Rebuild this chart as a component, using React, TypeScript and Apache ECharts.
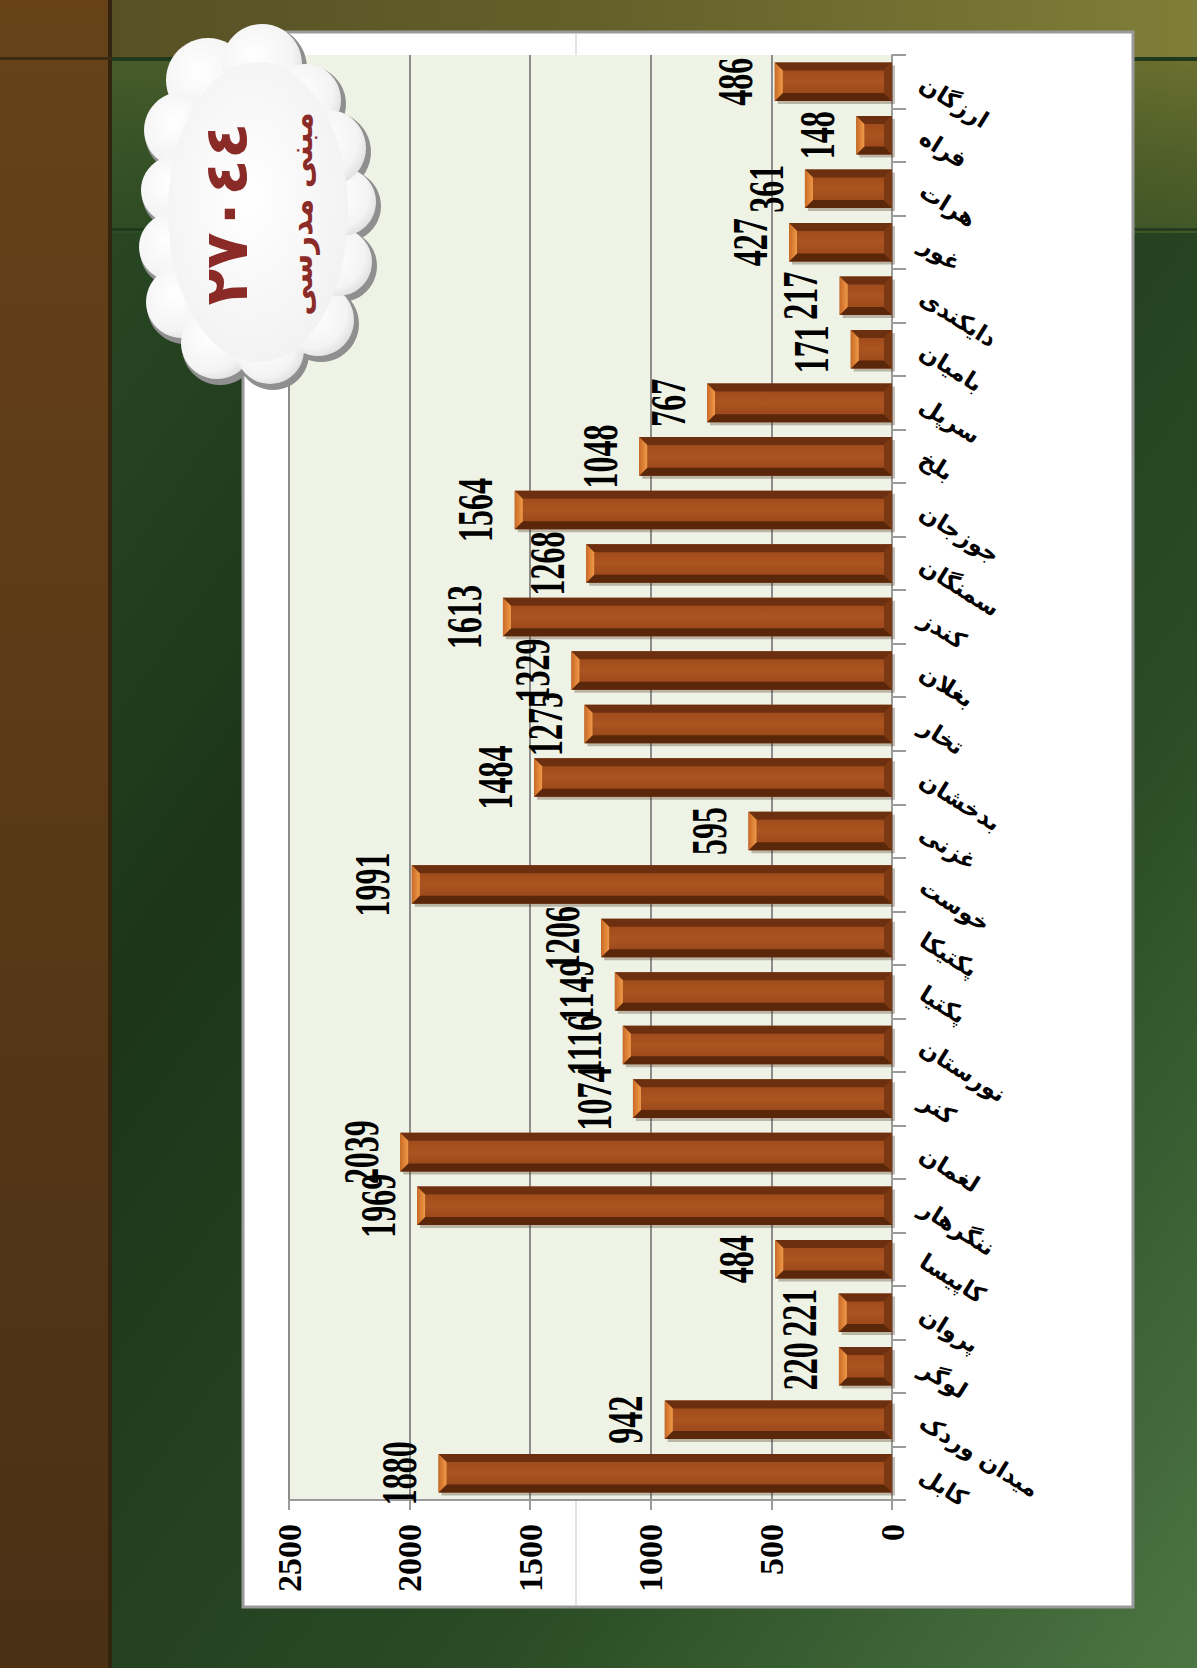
import React, { useEffect, useRef } from "react";
import * as echarts from "echarts";

const categories = [
  "کابل", "میدان وردک", "لوگر", "پروان", "کاپیسا", "ننگرهار", "لغمان", "کنر", "نورستان",
  "پکتیا", "پکتیکا", "خوست", "غزنی", "بدخشان", "تخار", "بغلان", "کندز", "سمنگان",
  "جوزجان", "بلخ", "سرپل", "بامیان", "دایکندی", "غور", "هرات", "فراه", "ارزگان",
];
const values = [
  1880, 942, 220, 221, 484, 1969, 2039, 1074, 1116, 1149, 1206, 1991, 595, 1484,
  1275, 1329, 1613, 1268, 1564, 1048, 767, 171, 217, 427, 361, 148, 486,
];
const valueMin = 0;
const valueMax = 2500;
const valueStep = 500;
const titleNumber = "٢٧٠٤٤";
const titleText = "مبنی مدرسی";

const cloudCircles: number[][] = [
  [208, 80, 42], [262, 64, 40], [305, 100, 36], [182, 130, 38], [175, 190, 34],
  [173, 247, 34], [182, 302, 36], [217, 343, 36], [270, 350, 34], [318, 320, 36],
  [338, 262, 34], [342, 202, 34], [328, 148, 38],
];

export default function App() {
  const ref = useRef<HTMLDivElement>(null);
  useEffect(() => {
    if (!ref.current) return;
    const chart = echarts.init(ref.current, null, { renderer: "svg" });

    const cloudShadow = cloudCircles.map((c) => ({
      type: "circle", z: 100,
      shape: { cx: c[0] + 3, cy: c[1] + 4, r: c[2] + 2 },
      style: { fill: "#8f8f8f" },
    }));
    const cloudWhite = cloudCircles.map((c) => ({
      type: "circle", z: 101,
      shape: { cx: c[0], cy: c[1], r: c[2] },
      style: {
        fill: new echarts.graphic.RadialGradient(0.4, 0.4, 0.7, [
          { offset: 0, color: "#ffffff" },
          { offset: 0.7, color: "#f4f4f4" },
          { offset: 1, color: "#d9d9d9" },
        ]),
      },
    }));

    chart.setOption({
      animation: false,
      graphic: [
        { type: "rect", z: -20, shape: { x: 0, y: 0, width: 1197, height: 1668 },
          style: { fill: new echarts.graphic.LinearGradient(0, 0, 1, 1, [
            { offset: 0, color: "#2f4f28" }, { offset: 0.35, color: "#1c3519" },
            { offset: 0.7, color: "#2a4b25" }, { offset: 1, color: "#4d7543" } ]) } },
        { type: "rect", z: -19, shape: { x: 0, y: 58, width: 1197, height: 175 },
          style: { fill: new echarts.graphic.LinearGradient(1, 0, 0, 1, [
            { offset: 0, color: "rgba(112,114,48,0.95)" }, { offset: 1, color: "rgba(60,90,40,0.2)" } ]) } },
        { type: "rect", z: -18, shape: { x: 0, y: 0, width: 1197, height: 58 },
          style: { fill: new echarts.graphic.LinearGradient(0, 0, 1, 0, [
            { offset: 0, color: "#544d24" }, { offset: 0.5, color: "#64602a" }, { offset: 1, color: "#7f7e38" } ]) } },
        { type: "rect", z: -17, shape: { x: 0, y: 57, width: 1197, height: 4 }, style: { fill: "#1f3a1c" } },
        { type: "rect", z: -17, shape: { x: 0, y: 228, width: 1197, height: 3 }, style: { fill: "rgba(25,50,25,0.7)" } },
        { type: "rect", z: -16, shape: { x: 0, y: 0, width: 110, height: 1668 },
          style: { fill: new echarts.graphic.LinearGradient(0, 0, 0, 1, [
            { offset: 0, color: "#674219" }, { offset: 1, color: "#4a3015" } ]) } },
        { type: "rect", z: -15, shape: { x: 108, y: 0, width: 4, height: 1668 }, style: { fill: "#33240f" } },
        { type: "rect", z: -15, shape: { x: 0, y: 57, width: 112, height: 3 }, style: { fill: "#3d2a12" } },
        { type: "rect", z: -14, shape: { x: 243, y: 32, width: 890, height: 1575 },
          style: { fill: "#ffffff", stroke: "#9a9a9a", lineWidth: 3 } },
        { type: "line", z: -13, shape: { x1: 576, y1: 33, x2: 576, y2: 1606 },
          style: { stroke: "#c9c9c9", lineWidth: 1 } },
        ...cloudShadow,
        ...cloudWhite,
        { type: "ellipse", z: 102, shape: { cx: 258, cy: 212, rx: 90, ry: 150 },
          style: { fill: new echarts.graphic.RadialGradient(0.45, 0.45, 0.7, [
            { offset: 0, color: "#ffffff" }, { offset: 1, color: "#efefef" } ]) } },
        { type: "text", z: 103, x: 226, y: 214, rotation: Math.PI / 2,
          style: { text: titleNumber, font: 'bold 60px "DejaVu Sans"', fill: "#8a2b28",
            align: "center", verticalAlign: "middle" } },
        { type: "text", z: 103, x: 301, y: 214, rotation: Math.PI / 2,
          style: { text: titleText, font: 'bold 31px "DejaVu Sans"', fill: "#8a2b28",
            align: "center", verticalAlign: "middle" } },
      ],
      grid: {
        left: 289, right: 305, top: 55, bottom: 168,
        show: true, backgroundColor: "#eef3e6", borderWidth: 0,
      },
      xAxis: {
        type: "value", inverse: true, min: valueMin, max: valueMax, interval: valueStep,
        axisLine: { show: true, lineStyle: { color: "#9a9a9a", width: 2 } },
        axisTick: { show: true, length: 10, lineStyle: { color: "#9a9a9a", width: 2 } },
        splitLine: { show: true, lineStyle: { color: "#8c8c8c", width: 2 } },
        axisLabel: { rotate: 90, margin: 24, color: "#000", fontSize: 34,
          fontFamily: '"Liberation Serif", serif', fontWeight: "bold",
          formatter: (v: number) => String(v) },
      },
      yAxis: {
        type: "category", position: "right", data: categories,
        axisLine: { show: true, lineStyle: { color: "#9a9a9a", width: 2 } },
        axisTick: { show: true, length: 14, lineStyle: { color: "#9a9a9a", width: 2 } },
        axisLabel: { rotate: -32, margin: 30, color: "#000", fontSize: 23,
          fontFamily: '"DejaVu Sans", sans-serif', fontWeight: "bold", align: "left" },
        splitLine: { show: false },
      },
      series: [
        {
          type: "custom",
          data: values.map((v, i) => [v, i]),
          encode: { x: 0, y: 1 },
          renderItem: (params: any, api: any) => {
            const val = api.value(0);
            const cat = api.value(1);
            const end = api.coord([val, cat]);
            const start = api.coord([0, cat]);
            const band = api.size([0, 1])[1];
            const h = band * 0.72;
            const xL = end[0];
            const xR = start[0];
            const yc = start[1];
            const yT = yc - h / 2;
            const yB = yc + h / 2;
            const w = xR - xL;
            const b = Math.min(8, w / 2);
            return {
              type: "group",
              children: [
                { type: "rect", shape: { x: xL + 3, y: yT + 3, width: w, height: h },
                  style: { fill: "rgba(70,40,20,0.3)" } },
                { type: "rect", shape: { x: xL, y: yT, width: w, height: h },
                  style: { fill: new echarts.graphic.LinearGradient(0, 0, 0, 1, [
                    { offset: 0, color: "#9a4618" }, { offset: 0.5, color: "#ab5421" },
                    { offset: 1, color: "#934216" } ]) } },
                { type: "polygon", shape: { points: [[xL, yT], [xR, yT], [xR - b, yT + b], [xL + b, yT + b]] },
                  style: { fill: "#6c3010" } },
                { type: "polygon", shape: { points: [[xL, yB], [xR, yB], [xR - b, yB - b], [xL + b, yB - b]] },
                  style: { fill: "#5a270b" } },
                { type: "polygon", shape: { points: [[xL, yT], [xL + b, yT + b], [xL + b, yB - b], [xL, yB]] },
                  style: { fill: new echarts.graphic.LinearGradient(0, 0, 1, 0, [
                    { offset: 0, color: "#c96a26" }, { offset: 1, color: "#f09a48" } ]) } },
                { type: "polygon", shape: { points: [[xR, yT], [xR - b, yT + b], [xR - b, yB - b], [xR, yB]] },
                  style: { fill: "#7a3913" } },
                { type: "text", x: xL - 14, y: yc, rotation: Math.PI / 2, scaleX: 0.64,
                  style: { text: String(val), font: 'bold 50px "Liberation Serif"', fill: "#000",
                    align: "center", verticalAlign: "bottom" } },
              ],
            };
          },
        },
      ],
    });
    return () => chart.dispose();
  }, []);
  return (
    <div ref={ref} style={{ position: "absolute", left: 0, top: 0, width: 1197, height: 1668 }} />
  );
}
